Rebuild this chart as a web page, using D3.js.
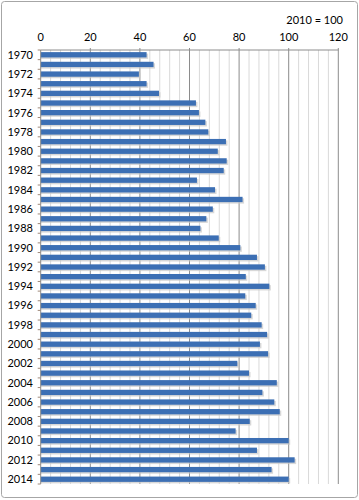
<!DOCTYPE html>
<html><head><meta charset="utf-8">
<script src="https://cdn.jsdelivr.net/npm/d3@7/dist/d3.min.js"></script>
<style>body{margin:0;background:#fff}svg{display:block}</style>
</head><body>
<script>
const years = d3.range(1970, 2015);
const values = [42.7,45.5,39.6,42.7,47.7,62.6,63.8,66.4,67.6,74.7,
71.4,75.0,73.8,63.0,70.3,81.4,69.4,66.8,64.4,71.8,
80.5,87.2,90.4,82.7,92.2,82.5,86.7,84.9,89.1,91.3,
88.4,91.7,79.3,84.0,95.2,89.4,94.2,96.4,84.3,78.6,
100,87.2,102.4,93.1,100];
const xTicks = [0,20,40,60,80,100,120];
const minorTicks = d3.range(0,121,4);
const unitLabel = "2010 = 100";

(function(){
const W=359,H=500;
const svg=d3.select("body").append("svg").attr("width",W).attr("height",H);
svg.append("rect").attr("x",1.5).attr("y",1.5).attr("width",W-3).attr("height",H-4)
  .attr("rx",3).attr("fill","#fff").attr("stroke","#a6a6a6");

const pl=40.7,pr=338.3,pt=50,pb=484;
const x=d3.scaleLinear().domain([0,120]).range([pl,pr]);
const y=d3.scaleBand().domain(years).range([pt,pb]).paddingInner(0.45).paddingOuter(0.22);

svg.append("g").selectAll("line").data(minorTicks.filter(d=>d%20!==0)).join("line")
  .attr("x1",d=>x(d)).attr("x2",d=>x(d)).attr("y1",pt).attr("y2",pb)
  .attr("stroke","#d9d9d9").attr("stroke-width",1);
svg.append("g").selectAll("line").data(xTicks.filter(d=>d>0)).join("line")
  .attr("x1",d=>x(d)).attr("x2",d=>x(d)).attr("y1",pt-2).attr("y2",pb)
  .attr("stroke","#8c8c8c").attr("stroke-width",1);

svg.append("line").attr("x1",pl).attr("x2",pr).attr("y1",pt).attr("y2",pt)
  .attr("stroke","#8c8c8c");

svg.append("g").selectAll("rect").data(values).join("rect")
  .attr("x",pl).attr("y",(d,i)=>y(years[i])+1.5)
  .attr("width",d=>x(d)-pl+1.5).attr("height",y.bandwidth())
  .attr("fill","#c8c8c8").attr("opacity",0.7);
svg.append("g").selectAll("rect").data(values).join("rect")
  .attr("x",pl).attr("y",(d,i)=>y(years[i]))
  .attr("width",d=>x(d)-pl).attr("height",y.bandwidth())
  .attr("fill","#3c6fb4");

svg.append("line").attr("x1",pl).attr("x2",pl).attr("y1",pt).attr("y2",pb)
  .attr("stroke","#8c8c8c");
const bounds=d3.range(0,46).map(i=>pt+(pb-pt)*i/45);
svg.append("g").selectAll("line").data(bounds).join("line")
  .attr("x1",pl-3).attr("x2",pl).attr("y1",d=>d).attr("y2",d=>d)
  .attr("stroke","#a08a7a");

svg.append("g").selectAll("text").data(years.filter(d=>d%2===0)).join("text")
  .attr("x",33).attr("y",d=>y(d)+y.bandwidth()/2).attr("dy","0.35em")
  .attr("text-anchor","end").attr("font-family","Lato").attr("font-size",11)
  .attr("fill","#000").text(d=>d);
svg.append("g").selectAll("text").data(xTicks).join("text")
  .attr("x",d=>x(d)).attr("y",37).attr("dy","0.35em")
  .attr("text-anchor","middle").attr("font-family","Lato").attr("font-size",11)
  .attr("fill","#000").text(d=>d);
svg.append("text").attr("x",343).attr("y",20).attr("dy","0.35em")
  .attr("text-anchor","end").attr("font-family","Lato").attr("font-size",11)
  .text(unitLabel);
})();
</script>
</body></html>
